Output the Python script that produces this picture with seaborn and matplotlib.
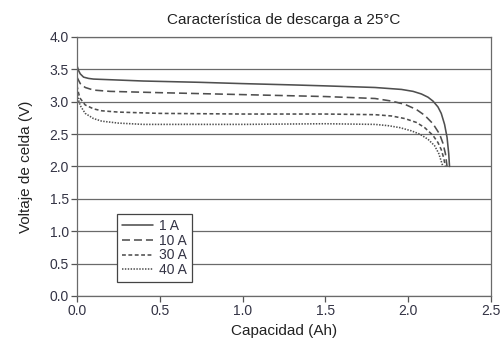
import matplotlib
matplotlib.use("Agg")
import matplotlib.pyplot as plt
import seaborn as sns
import pandas as pd

# Data
cap_1a = [0.0, 0.01, 0.02, 0.04, 0.07, 0.1, 0.2, 0.4, 0.74, 1.0, 1.3, 1.5, 1.8, 1.96, 2.03, 2.08, 2.12, 2.15, 2.18, 2.2, 2.22, 2.235, 2.245, 2.25]
v_1a = [3.56, 3.48, 3.43, 3.38, 3.36, 3.35, 3.34, 3.32, 3.30, 3.28, 3.26, 3.245, 3.22, 3.19, 3.16, 3.12, 3.07, 3.01, 2.92, 2.82, 2.65, 2.45, 2.2, 2.0]

cap_10a = [0.0, 0.01, 0.02, 0.05, 0.1, 0.2, 0.5, 1.0, 1.5, 1.8, 1.9, 1.98, 2.05, 2.1, 2.15, 2.19, 2.21, 2.225, 2.235]
v_10a = [3.38, 3.33, 3.28, 3.22, 3.18, 3.16, 3.14, 3.11, 3.08, 3.05, 3.01, 2.96, 2.88, 2.79, 2.66, 2.5, 2.36, 2.2, 2.0]

cap_30a = [0.0, 0.01, 0.02, 0.05, 0.1, 0.15, 0.25, 0.5, 1.0, 1.5, 1.8, 1.9, 1.98, 2.05, 2.1, 2.15, 2.18, 2.2, 2.215, 2.225]
v_30a = [3.25, 3.13, 3.05, 2.95, 2.89, 2.86, 2.84, 2.82, 2.81, 2.81, 2.8, 2.78, 2.74, 2.68, 2.6, 2.48, 2.37, 2.26, 2.13, 2.0]

cap_40a = [0.0, 0.01, 0.02, 0.05, 0.1, 0.15, 0.25, 0.4, 1.0, 1.5, 1.8, 1.88, 1.95, 2.02, 2.07, 2.12, 2.16, 2.185, 2.2, 2.21]
v_40a = [3.15, 3.02, 2.94, 2.82, 2.74, 2.70, 2.67, 2.65, 2.65, 2.66, 2.65, 2.63, 2.6, 2.55, 2.5, 2.42, 2.32, 2.2, 2.08, 2.0]

labels = ["1 A", "10 A", "30 A", "40 A"]
x_ticks = [0.0, 0.5, 1.0, 1.5, 2.0, 2.5]
y_ticks = [0.0, 0.5, 1.0, 1.5, 2.0, 2.5, 3.0, 3.5, 4.0]

frames = []
for lab, xs, ys in zip(labels, [cap_1a, cap_10a, cap_30a, cap_40a], [v_1a, v_10a, v_30a, v_40a]):
    frames.append(pd.DataFrame({"cap": xs, "v": ys, "serie": lab}))
df = pd.concat(frames, ignore_index=True)

sns.set_style("white")
plt.rcParams["font.family"] = ["Liberation Sans", "DejaVu Sans"]

fig = plt.figure(figsize=(5.03, 3.49), dpi=100)
ax = fig.add_axes([0.153, 0.152, 0.823, 0.742])

dash_map = {"1 A": "", "10 A": (5, 2.5), "30 A": (2.4, 1.6), "40 A": (0.9, 0.9)}
sns.lineplot(data=df, x="cap", y="v", hue="serie", style="serie",
             palette=["#4f4f4f"] * 4, dashes=dash_map, sort=False,
             estimator=None, linewidth=1.15, ax=ax)

ax.set_xlim(0, 2.5)
ax.set_ylim(0, 4.0)
ax.set_xticks(x_ticks)
ax.set_yticks(y_ticks)
ax.set_xticklabels([f"{t:.1f}" for t in x_ticks])
ax.set_yticklabels([f"{t:.1f}" for t in y_ticks])
ax.yaxis.grid(True, color="#6a6a6a", linewidth=0.9)
ax.xaxis.grid(False)
ax.set_axisbelow(True)
for s in ax.spines.values():
    s.set_color("#6a6a6a")
    s.set_linewidth(0.9)
ax.tick_params(axis="both", direction="out", length=4, width=0.9, color="#555555",
               labelsize=10, labelcolor="#333344", pad=2, bottom=True, left=True)

ax.set_xlabel("Capacidad (Ah)", fontsize=11, color="#222222", labelpad=4)
ax.set_ylabel("Voltaje de celda (V)", fontsize=11, color="#222222", labelpad=12)
ax.set_title("Característica de descarga a 25°C", fontsize=11, color="#222222", pad=9)

leg = ax.legend(loc="lower left", bbox_to_anchor=(0.097, 0.054), borderaxespad=0,
                frameon=True, fancybox=False, fontsize=10, handlelength=2.2,
                labelspacing=0.05, borderpad=0.35, handletextpad=0.5)
leg.get_frame().set_edgecolor("#444444")
leg.get_frame().set_linewidth(0.9)
leg.get_frame().set_alpha(1)
for t in leg.get_texts():
    t.set_color("#333344")

fig.savefig("out.png", dpi=100)
